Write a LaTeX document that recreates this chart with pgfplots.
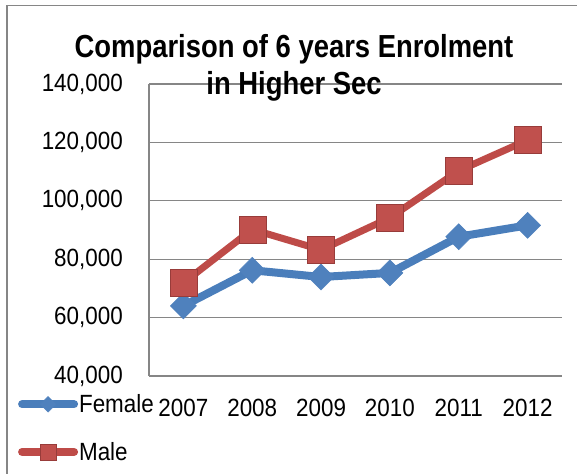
\documentclass[border=0pt]{standalone}
\usepackage{pgfplots}
\pgfplotsset{compat=1.18}
\usepackage{fontspec}
\setmainfont{Liberation Sans}
\newfontfamily\titlefont[FakeStretch=0.86]{Liberation Sans}
\newfontfamily\labelfont[FakeStretch=0.9]{Liberation Sans}
\definecolor{fblue}{HTML}{4A7EBB}
\definecolor{fbluemark}{HTML}{4F81BD}
\definecolor{mred}{HTML}{BE4B48}
\definecolor{mredmark}{HTML}{C0504D}
\definecolor{gridgray}{HTML}{868686}
\begin{document}
\begin{tikzpicture}[x=1bp,y=1bp]
\useasboundingbox (0,0) rectangle (577,474);
\draw[gridgray, line width=1.2bp] (7,-10) -- (7,468.5) -- (590,468.5);
\begin{axis}[
  at={(149bp,98bp)}, anchor=south west,
  scale only axis, width=413bp, height=292bp,
  xmin=-0.5, xmax=5.5, ymin=40000, ymax=140000,
  ytick={40000,60000,80000,100000,120000,140000},
  yticklabels={{40,000},{60,000},{80,000},{100,000},{120,000},{140,000}},
  xtick={0,1,2,3,4,5},
  xticklabels={2007,2008,2009,2010,2011,2012},
  axis lines=left, axis line style={-, gridgray, line width=1.2bp},
  ymajorgrids, grid style={gridgray, line width=1.2bp},
  major tick length=0pt,
  scaled y ticks=false,
  tick label style={font=\labelfont\fontsize{25}{28}\selectfont},
  yticklabel style={anchor=east, inner sep=0pt, xshift=-26bp},
  xticklabel style={anchor=north, inner sep=0pt, yshift=-23bp},
  clip=false,
  legend style={at={(axis description cs:-0.317,-0.06)}, anchor=north west,
    draw=none, fill=none, inner sep=0pt, outer sep=0pt,
    font=\labelfont\fontsize{25}{28}\selectfont, row sep=26bp,
    nodes={inner sep=1bp}},
  legend cell align=left,
  legend image code/.code={\draw[#1, line cap=round, mark repeat=2, mark phase=2] plot coordinates {(0bp,0bp) (26bp,0bp) (52bp,0bp)};},
]
\addplot[fblue, line width=8bp, mark=square*, mark size=9.2bp,
  mark options={rotate=45, fill=fbluemark, draw=fbluemark, line width=0.5bp},
  legend image post style={line width=8bp, mark size=5.5bp}]
  coordinates {(0,64000) (1,76200) (2,73900) (3,75300) (4,87700) (5,91600)};
\addlegendentry{Female}
\addplot[mred, line width=7bp, mark=square*, mark size=13.5bp,
  mark options={fill=mredmark, draw=mred!80!black, line width=0.5bp},
  legend image post style={line width=8bp, mark size=8bp}]
  coordinates {(0,71900) (1,90200) (2,83200) (3,94200) (4,110300) (5,120800)};
\addlegendentry{Male}
\end{axis}
\node[anchor=base, font=\titlefont\bfseries\fontsize{32}{36}\selectfont] at (294,416) {Comparison of 6 years Enrolment};
\node[anchor=base, font=\titlefont\bfseries\fontsize{32}{36}\selectfont] at (294,379) {in Higher Sec};
\end{tikzpicture}
\end{document}
